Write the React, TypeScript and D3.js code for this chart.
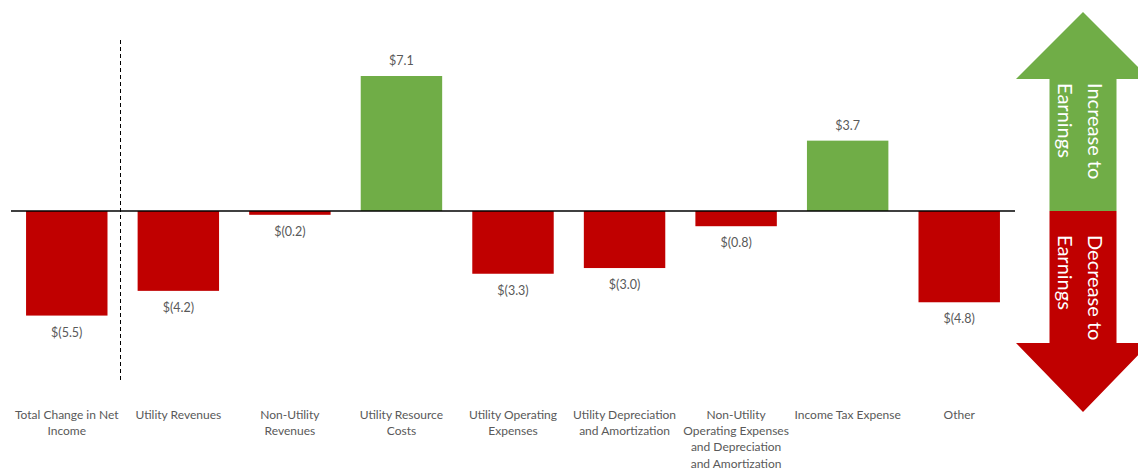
import React from "react";
import * as d3 from "d3";

const categories: string[][] = [
  ["Total Change in Net", "Income"],
  ["Utility Revenues"],
  ["Non-Utility", "Revenues"],
  ["Utility Resource", "Costs"],
  ["Utility Operating", "Expenses"],
  ["Utility Depreciation", "and Amortization"],
  ["Non-Utility", "Operating Expenses", "and Depreciation", "and Amortization"],
  ["Income Tax Expense"],
  ["Other"],
];
const values: number[] = [-5.5, -4.2, -0.2, 7.1, -3.3, -3.0, -0.8, 3.7, -4.8];

const W = 1138;
const H = 470;
const FONT = "Lato, 'Open Sans', sans-serif";
const RED = "#C00000";
const GREEN = "#70AD47";
const GREY = "#595959";

const fmt = (v: number) => (v < 0 ? `$(${Math.abs(v).toFixed(1)})` : `$${v.toFixed(1)}`);

export default function App() {
  const x = d3
    .scaleBand<number>()
    .domain(values.map((_, i) => i))
    .range([11, 1015])
    .paddingInner(0.27)
    .paddingOuter(0.135);
  const y = d3.scaleLinear().domain([0, 7.1]).range([211, 76]);
  const y0 = y(0);

  // arrow geometry
  const cx = 1083;
  const headHalf = 67;
  const shaftHalf = 33.5;
  const up = `M${cx},12 L${cx + headHalf},79 L${cx + shaftHalf},79 L${cx + shaftHalf},${y0} L${cx - shaftHalf},${y0} L${cx - shaftHalf},79 L${cx - headHalf},79 Z`;
  const down = `M${cx},412 L${cx + headHalf},343 L${cx + shaftHalf},343 L${cx + shaftHalf},${y0} L${cx - shaftHalf},${y0} L${cx - shaftHalf},343 L${cx - headHalf},343 Z`;

  return (
    <svg
      width={W}
      height={H}
      style={{ position: "absolute", left: 0, top: 0, background: "#fff" }}
      fontFamily={FONT}
    >
      <rect width={W} height={H} fill="#fff" />
      {values.map((v, i) => {
        const bx = x(i)!;
        const top = Math.min(y(v), y0);
        const h = Math.abs(y(v) - y0);
        return (
          <g key={i}>
            <rect x={bx} y={top} width={x.bandwidth()} height={h} fill={v >= 0 ? GREEN : RED} />
            <text
              x={bx + x.bandwidth() / 2}
              y={v >= 0 ? y(v) - 11 : y(v) + 21}
              textAnchor="middle"
              fontSize={12.5}
              fill={GREY}
            >
              {fmt(v)}
            </text>
            <text
              x={bx + x.bandwidth() / 2}
              y={419}
              textAnchor="middle"
              fontSize={12}
              fill={GREY}
            >
              {categories[i].map((line, j) => (
                <tspan key={j} x={bx + x.bandwidth() / 2} dy={j === 0 ? 0 : 16.2}>
                  {line}
                </tspan>
              ))}
            </text>
          </g>
        );
      })}
      <line x1={11} x2={1015} y1={y0} y2={y0} stroke="#000" strokeWidth={1.3} />
      <line x1={120.5} x2={120.5} y1={40} y2={380} stroke="#000" strokeWidth={1} strokeDasharray="4,3" />
      <path d={up} fill={GREEN} />
      <path d={down} fill={RED} />
      <g fill="#fff" fontSize={20}>
        <text transform={`translate(${cx + 5},83) rotate(90)`}>Increase to</text>
        <text transform={`translate(${cx - 25},83) rotate(90)`}>Earnings</text>
        <text transform={`translate(${cx + 5},235) rotate(90)`}>Decrease to</text>
        <text transform={`translate(${cx - 25},235) rotate(90)`}>Earnings</text>
      </g>
    </svg>
  );
}
